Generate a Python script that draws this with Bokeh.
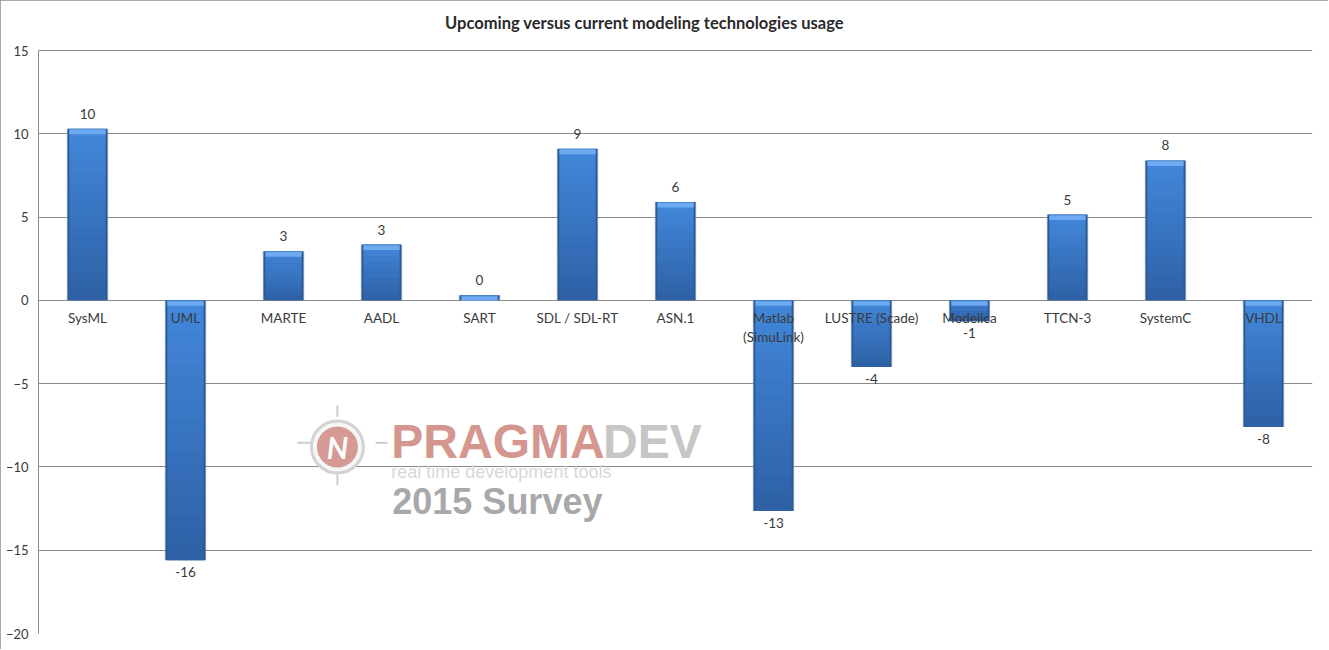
from bokeh.plotting import figure
from bokeh.models import Range1d, FactorRange, Label, ColumnDataSource, SingleIntervalTicker
from bokeh.core.properties import value
from bokeh.embed import file_html
from bokeh.resources import INLINE

# ---------------- data ----------------
categories = ["SysML", "UML", "MARTE", "AADL", "SART", "SDL / SDL-RT", "ASN.1",
              "Matlab (SimuLink)", "LUSTRE (Scade)", "Modelica", "TTCN-3", "SystemC", "VHDL"]
category_labels = ["SysML", "UML", "MARTE", "AADL", "SART", "SDL / SDL-RT", "ASN.1",
                   "Matlab\n(SimuLink)", "LUSTRE (Scade)", "Modelica", "TTCN-3", "SystemC", "VHDL"]
values = [10.3, -15.6, 2.95, 3.35, 0.3, 9.1, 5.9, -12.65, -4.0, -1.25, 5.15, 8.4, -7.6]
value_labels = ["10", "-16", "3", "3", "0", "9", "6", "-13", "-4", "-1", "5", "8", "-8"]
title_text = "Upcoming versus current modeling technologies usage"
y_min, y_max, y_step = -20, 15, 5

FONT = "Lato"
TXT = "#3a3a3a"
GRID = "#8a8a8a"
W, H = 1328, 649
BL, BR, BB = 38, 16, 16
PLOT_TOP = 50      # pixel row of the y_max gridline
TOP_PAD = 3        # frame starts here; the strip above y_max holds the title

# the frame reaches up to TOP_PAD; extend the range so y_max still sits at PLOT_TOP
ppu = (H - BB - PLOT_TOP) / (y_max - y_min)
y_top = y_max + (PLOT_TOP - TOP_PAD) / ppu

p = figure(width=W, height=H, x_range=FactorRange(*categories),
           y_range=Range1d(y_min, y_top), output_backend="svg", toolbar_location=None,
           min_border_left=BL, min_border_right=BR, min_border_top=TOP_PAD,
           min_border_bottom=BB)
p.styles = {"outline": "1px solid #8c8c8c", "outline-offset": "-1px"}
p.outline_line_color = None
p.background_fill_color = "white"
p.border_fill_color = "white"

frame_h = H - BB - TOP_PAD
p.add_layout(Label(x=606, y=frame_h - 19, x_units="screen", y_units="screen",
                   text=title_text, text_font=FONT, text_font_size="16.5px",
                   text_font_style="bold", text_color="#2a2a2a",
                   text_align="center", text_baseline="middle"))

p.xaxis.visible = False
p.xgrid.visible = False
p.ygrid.grid_line_color = GRID
p.ygrid.bounds = (y_min, y_max)
p.ygrid.ticker = SingleIntervalTicker(interval=y_step)
p.yaxis.ticker = SingleIntervalTicker(interval=y_step)
p.yaxis.bounds = (y_min, y_max)
p.yaxis.axis_line_color = GRID
p.yaxis.major_tick_line_color = None
p.yaxis.major_tick_out = 0
p.yaxis.major_tick_in = 0
p.yaxis.minor_tick_line_color = None
p.yaxis.minor_tick_out = 0
p.yaxis.major_label_text_font = FONT
p.yaxis.major_label_text_font_size = "13px"
p.yaxis.major_label_text_color = TXT
p.yaxis.major_label_standoff = 10

# ---------------- watermark ----------------
logo_x, logo_y = 3.05, -8.8
p.scatter(x=[logo_x], y=[logo_y], size=52, marker="circle", fill_color="#f6f6f6",
          line_color="#d2d2d2", line_width=3)
p.scatter(x=[logo_x], y=[logo_y], size=41, marker="circle", fill_color="#d59a93",
          line_color=None)
p.segment(x0=[2.64, 3.44], y0=[-8.55, -8.55], x1=[2.78, 3.56], y1=[-8.55, -8.55],
          line_color="#cccccc", line_width=2)
p.segment(x0=[3.05, 3.05], y0=[-6.3, -10.45], x1=[3.05, 3.05], y1=[-7.0, -11.1],
          line_color="#cccccc", line_width=2)
p.add_layout(Label(x=logo_x, y=logo_y, text="N", text_font=FONT, text_font_size="30px",
                   text_font_style="bold italic", text_color="white",
                   text_align="center", text_baseline="middle"))
p.add_layout(Label(x=3.6, y=-8.45, text="PRAGMA", text_font="Liberation Sans",
                   text_font_size="48px", text_font_style="bold", text_color="#d4968f",
                   text_baseline="alphabetic"))
p.add_layout(Label(x=5.76, y=-8.45, text="DEV", text_font="Liberation Sans",
                   text_font_size="48px", text_font_style="bold", text_color="#c6c6c6",
                   text_baseline="alphabetic"))
p.add_layout(Label(x=3.6, y=-10.3, text="real time development tools",
                   text_font="Liberation Sans", text_font_size="18px",
                   text_color="#d8d8d8", text_baseline="alphabetic"))
p.add_layout(Label(x=3.61, y=-12.1, text="2015 Survey", text_font="Liberation Sans",
                   text_font_size="36px", text_font_style="bold", text_color="#a8a8a8",
                   text_baseline="alphabetic"))

# ---------------- bars (bevelled, vertical shading) ----------------
tops = [max(v, 0) for v in values]
bottoms = [min(v, 0) for v in values]
shade_top, shade_bot = (66, 135, 218), (46, 97, 166)
n_slices = 24
sx, st, sb, sc = [], [], [], []
for c, t, b in zip(categories, tops, bottoms):
    h = t - b
    for k in range(n_slices):
        f = k / (n_slices - 1)
        sx.append(c)
        st.append(t - h * k / n_slices)
        sb.append(max(b, t - h * (k + 1.15) / n_slices))
        rgb = [round(a + (bb - a) * f) for a, bb in zip(shade_top, shade_bot)]
        sc.append("#%02x%02x%02x" % tuple(rgb))
slices = ColumnDataSource(dict(x=sx, top=st, bottom=sb, color=sc))
src = ColumnDataSource(dict(x=categories, top=tops, bottom=bottoms,
                            cap_top=[t - 0.05 for t in tops], cap_bot=[t - 0.33 for t in tops]))
# soft shadow
p.vbar(x="x", top="top", bottom="bottom", width=0.43, source=src,
       fill_color="#a0aab8", fill_alpha=0.3, line_color=None)
p.vbar(x="x", top="top", bottom="bottom", width=0.41, source=src,
       fill_color="#2c5994", line_color=None)
p.vbar(x="x", top="top", bottom="bottom", width=0.37, source=slices,
       fill_color="color", line_color=None)
p.vbar(x="x", top="cap_top", bottom="cap_bot", width=0.37, source=src,
       fill_color="#6eaaef", line_color=None)

# ---------------- labels ----------------
pos = [i for i, v in enumerate(values) if v >= 0]
neg = [i for i, v in enumerate(values) if v < 0]
p.text(x=[categories[i] for i in pos], y=[values[i] for i in pos],
       text=[value_labels[i] for i in pos], text_font=value(FONT), text_font_size="13.5px",
       text_color=TXT, text_align="center", text_baseline="bottom", y_offset=-10)
p.text(x=[categories[i] for i in neg], y=[values[i] for i in neg],
       text=[value_labels[i] for i in neg], text_font=value(FONT), text_font_size="13.5px",
       text_color=TXT, text_align="center", text_baseline="top", y_offset=7)
p.text(x=categories, y=[0] * len(categories), text=category_labels,
       text_font=value(FONT), text_font_size="13.5px", text_color=TXT,
       text_align="center", text_baseline="top", y_offset=10, text_line_height=1.15)

open("out.html", "w").write(file_html(p, INLINE))
